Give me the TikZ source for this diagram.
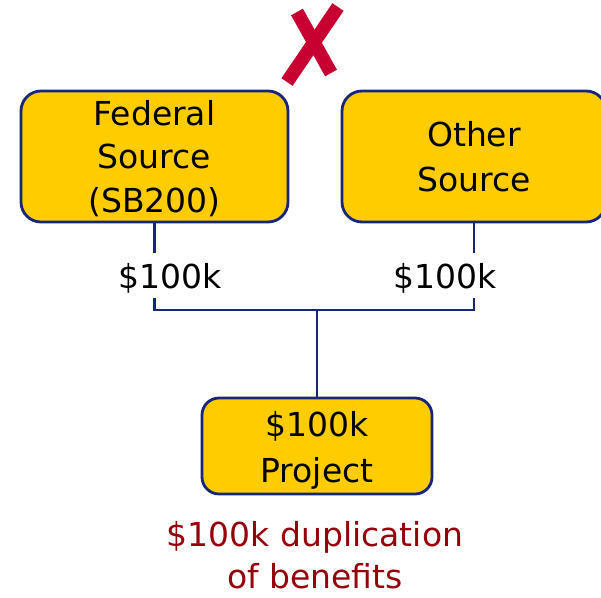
\documentclass[tikz,border=0pt]{standalone}
\usepackage{fontspec}
\setmainfont{DejaVu Sans}
\definecolor{gold}{RGB}{255,204,0}
\definecolor{navy}{RGB}{24,38,120}
\definecolor{darkred}{RGB}{150,0,10}
\definecolor{xred}{RGB}{200,0,50}
\tikzset{
  srcbox/.style={draw=navy, line width=2.8pt, fill=gold, rectangle, rounded corners=20pt, inner sep=0pt},
  boxtext/.style={inner sep=0pt, align=center, anchor=north},
  wire/.style={draw=navy, line width=2.3pt},
  amount/.style={fill=white, inner xsep=2pt, inner ysep=0pt, text height=35pt, text depth=10pt, anchor=base, font=\fontsize{33}{40}\selectfont},
  xmark/.style={draw=xred, line width=13.5pt}
}
\begin{document}
\begin{tikzpicture}[x=1pt,y=-1pt]
\clip (0,0) rectangle (601,597);
% boxes
\node[srcbox, minimum width=267pt, minimum height=131pt] (fed) at (154.5,156.5) {};
\node[srcbox, minimum width=264pt, minimum height=131pt] (oth) at (474,156.5) {};
\node[srcbox, minimum width=230pt, minimum height=96pt, rounded corners=17pt] (proj) at (317,446) {};
% box texts
\node[boxtext, font=\fontsize{33}{43.5}\selectfont] (fedt) at (154.5,99.9) {Federal\\Source\\(SB200)};
\node[boxtext, font=\fontsize{33}{45}\selectfont] (otht) at (474,121.6) {Other\\Source};
\node[boxtext, font=\fontsize{33}{46}\selectfont] (projt) at (317,411.6) {\$100k\\Project};
% connectors
\coordinate (j) at (317,310);
\draw[wire] (fed.south) -- (fed.south |- j) -- (oth.south |- j) -- (oth.south);
\draw[wire] (j) -- (proj.north);
% amount labels
\node[amount] (amt1) at (170,288) {\$100k};
\node[amount] (amt2) at (445.5,288) {\$100k};
% note
\node[boxtext, text=darkred, font=\fontsize{33}{41.3}\selectfont] (note) at (315,521.6) {\$100k duplication\\of benefits};
% X mark
\draw[xmark] (297,12) -- (331,73);
\draw[xmark] (338,7) -- (287,82);
\end{tikzpicture}
\end{document}
